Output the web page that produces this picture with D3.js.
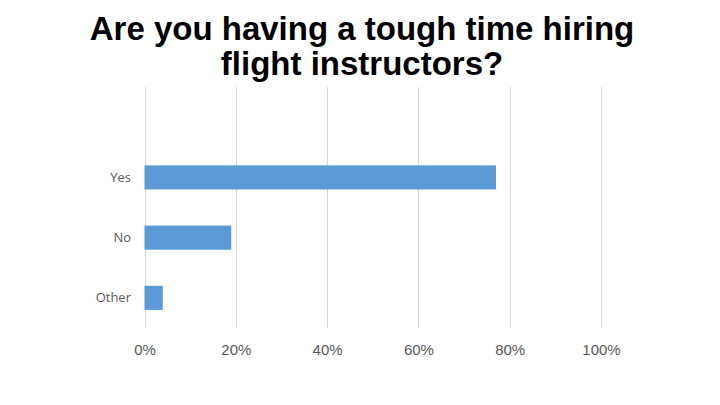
<!DOCTYPE html>
<html>
<head>
<meta charset="utf-8">
<script src="https://cdn.jsdelivr.net/npm/d3@7"></script>
<style>
  body { margin: 0; background: #fff; }
</style>
</head>
<body>
<div id="chart"></div>
<script>
const titleLines = ["Are you having a tough time hiring", "flight instructors?"];
const categories = ["Yes", "No", "Other"];
const shares = [0.77, 0.19, 0.04];
const xTicks = [0, 0.2, 0.4, 0.6, 0.8, 1.0];

const width = 720;
const height = 405;

const svg = d3
  .select("#chart")
  .append("svg")
  .attr("width", width)
  .attr("height", height);

// title
svg
  .append("text")
  .attr("x", 362)
  .attr("y", 40)
  .attr("text-anchor", "middle")
  .style("font-family", "'Liberation Sans', Arial, sans-serif")
  .style("font-weight", "bold")
  .style("font-size", "33px")
  .attr("fill", "#000")
  .selectAll("tspan")
  .data(titleLines)
  .join("tspan")
  .attr("x", 362)
  .attr("dy", (d, i) => (i === 0 ? 0 : 35))
  .text((d) => d);

const plotTop = 87;
const plotBottom = 328;

const x = d3.scaleLinear().domain([0, 1]).range([144.5, 601]);

// one empty band's worth of space sits above "Yes"
const y = d3
  .scaleBand()
  .domain(categories)
  .range([plotTop + (plotBottom - plotTop) / 4, plotBottom])
  .paddingInner(0.6)
  .paddingOuter(0.3);

// gridlines
svg
  .append("g")
  .selectAll("line")
  .data(xTicks)
  .join("line")
  .attr("x1", (d) => Math.round(x(d)) + 0.5)
  .attr("x2", (d) => Math.round(x(d)) + 0.5)
  .attr("y1", plotTop)
  .attr("y2", plotBottom)
  .attr("stroke", "#d9d9d9")
  .attr("stroke-width", 1);

// bars
svg
  .append("g")
  .selectAll("rect")
  .data(categories)
  .join("rect")
  .attr("x", x(0))
  .attr("y", (d) => y(d))
  .attr("width", (d, i) => x(shares[i]) - x(0))
  .attr("height", y.bandwidth())
  .attr("fill", "#5b9bd5");

// x axis labels
const xAxis = d3
  .axisBottom(x)
  .tickValues(xTicks)
  .tickFormat(d3.format(".0%"))
  .tickSize(0)
  .tickPadding(0);

const gx = svg
  .append("g")
  .attr("transform", `translate(0,${plotBottom + 16})`)
  .call(xAxis);
gx.select(".domain").remove();
gx.selectAll("text")
  .attr("fill", "#595959")
  .style("font-family", "'Liberation Sans', Arial, sans-serif")
  .style("font-size", "15px");

// y axis labels
const yAxis = d3.axisLeft(y).tickSize(0).tickPadding(0);
const gy = svg
  .append("g")
  .attr("transform", `translate(131,0)`)
  .call(yAxis);
gy.select(".domain").remove();
gy.selectAll("text")
  .attr("fill", "#595959")
  .style("font-family", "'Open Sans', sans-serif")
  .style("font-size", "13px");
</script>
</body>
</html>
